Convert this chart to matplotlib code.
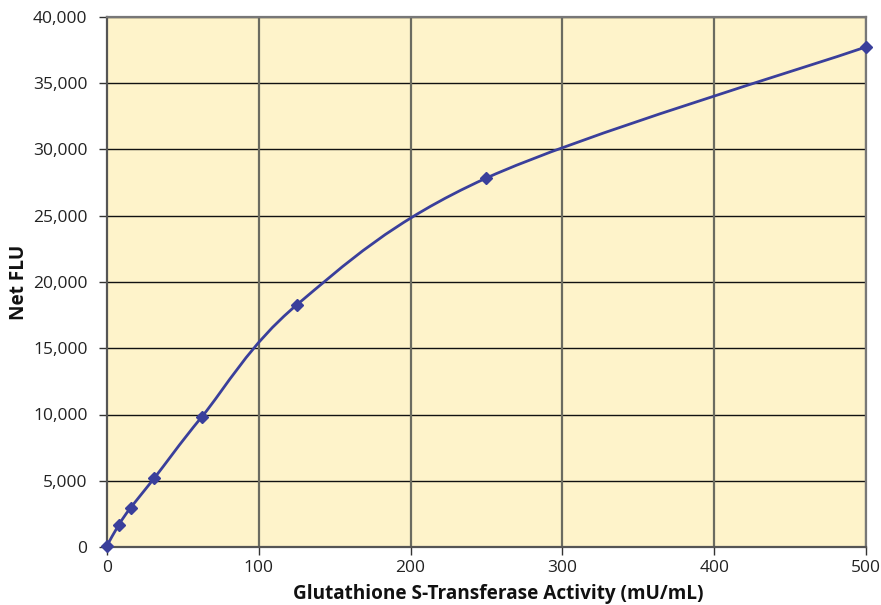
import matplotlib
matplotlib.use("Agg")
import matplotlib.pyplot as plt
from matplotlib.path import Path
from matplotlib.patches import PathPatch
from matplotlib.ticker import FuncFormatter
import numpy as np

plt.rcParams['font.family'] = ['Open Sans', 'DejaVu Sans']

activity = [0, 7.8, 15.6, 31.25, 62.5, 125, 250, 500]
net_flu = [100, 1680, 2970, 5210, 9830, 18270, 27850, 37740]
x_ticks = [0, 100, 200, 300, 400, 500]
y_ticks = [0, 5000, 10000, 15000, 20000, 25000, 30000, 35000, 40000]

fig = plt.figure(figsize=(8.81, 6.05), dpi=100)
ax = fig.add_axes([107/881, 1-547/605, (866-107)/881, (547-17)/605])
ax.set_facecolor('#FEF3CA')
ax.set_xlim(0, 500)
ax.set_ylim(0, 40000)
ax.set_xticks(x_ticks)
ax.set_yticks(y_ticks)
ax.yaxis.set_major_formatter(FuncFormatter(lambda v, p: f"{int(v):,}"))
ax.grid(False)
for t in y_ticks[1:]:
    ax.axhline(t, color='#111111', lw=1.0, zorder=1)
for t in x_ticks[1:]:
    ax.axvline(t, color='#6b6b60', lw=1.6, zorder=1)
for s in ['left', 'bottom']:
    ax.spines[s].set_color('#555555')
    ax.spines[s].set_linewidth(1.6)
for s in ['top', 'right']:
    ax.spines[s].set_color('#777777')
    ax.spines[s].set_linewidth(1.6)
ax.tick_params(axis='both', direction='out', length=6, width=1.0, color='#333333',
               labelsize=12.5, labelcolor='#222222')
ax.tick_params(axis='x', pad=3)
ax.tick_params(axis='y', pad=8)
for lab in ax.get_xticklabels() + ax.get_yticklabels():
    lab.set_fontweight('medium')

# Excel-style smoothed line (Bezier through data points)
xs = np.array(activity, dtype=float)
ys = np.array(net_flu, dtype=float)
n = len(xs)
verts = [(xs[0], ys[0])]
codes = [Path.MOVETO]
for i in range(n - 1):
    p0 = np.array([xs[max(i-1, 0)], ys[max(i-1, 0)]])
    p1 = np.array([xs[i], ys[i]])
    p2 = np.array([xs[i+1], ys[i+1]])
    p3 = np.array([xs[min(i+2, n-1)], ys[min(i+2, n-1)]])
    c1 = p1 + (p2 - p0) / 6.0
    c2 = p2 - (p3 - p1) / 6.0
    verts += [tuple(c1), tuple(c2), tuple(p2)]
    codes += [Path.CURVE4] * 3
ax.add_patch(PathPatch(Path(verts, codes), facecolor='none', edgecolor='#3A3F9B', lw=2.0, zorder=3))
ax.plot(activity, net_flu, linestyle='none', marker='D', markersize=6.5,
        color='#3A3F9B', zorder=4, clip_on=False)

ax.set_xlabel('Glutathione S-Transferase Activity (mU/mL)', fontsize=13.7, fontweight='bold',
              color='#111111')
ax.xaxis.set_label_coords(0.516, -0.07)
ax.set_ylabel('Net FLU', fontsize=13.7, fontweight='bold', color='#111111')
ax.yaxis.set_label_coords(-0.103, 0.5)

fig.savefig('out.png', dpi=100)
